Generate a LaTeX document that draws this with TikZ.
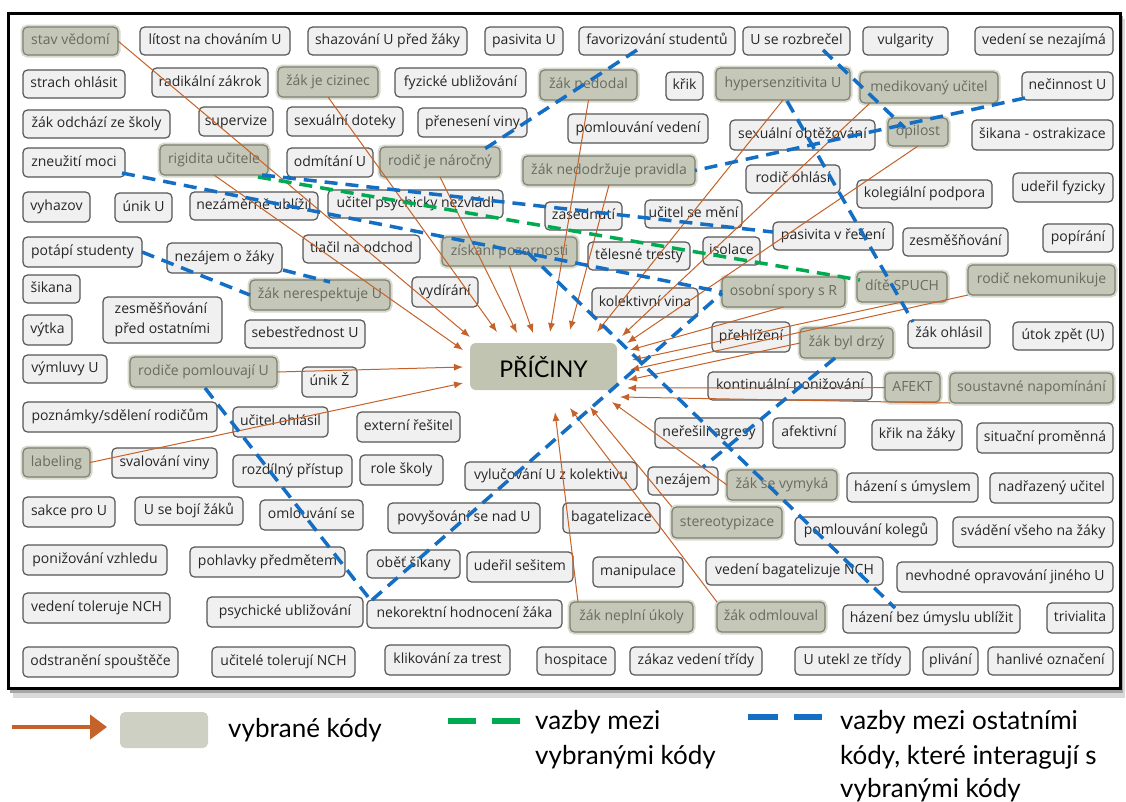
\documentclass[tikz,border=0pt]{standalone}
\usepackage{fontspec}
\setmainfont{Open Sans}
\newfontfamily\latofont{Lato}
\usetikzlibrary{arrows.meta}
\definecolor{oarrow}{RGB}{197,98,42}
\definecolor{bdash}{RGB}{20,110,195}
\definecolor{gdash}{RGB}{0,170,80}
\definecolor{selfill}{RGB}{197,200,184}
\definecolor{seldraw}{RGB}{125,127,112}
\definecolor{seltext}{RGB}{105,106,96}
\definecolor{selglow}{RGB}{216,218,205}
\definecolor{boxfill}{RGB}{240,240,240}
\definecolor{boxdraw}{RGB}{85,85,85}
\definecolor{pfill}{RGB}{192,196,176}
\definecolor{legfill}{RGB}{205,208,194}
\tikzset{
 box/.style={rounded corners=4.5pt, inner xsep=2pt, inner ysep=1pt, outer sep=0pt,
   font=\fontsize{14}{17}\selectfont, align=center, text height=10pt, text depth=3pt},
 cbox/.style={box, draw=boxdraw, line width=1.2pt, fill=boxfill, text=black!85},
 sbox/.style={box, draw=seldraw, line width=1.2pt, fill=selfill, text=seltext,
   preaction={draw=selglow, line width=5pt}},
 oarr/.style={draw=oarrow, line width=1pt, -{Latex[length=9pt,width=7pt]}},
 bline/.style={draw=bdash, line width=3.5pt, dash pattern=on 13pt off 8pt},
 gline/.style={draw=gdash, line width=3.5pt, dash pattern=on 13pt off 8pt},
 legtext/.style={font=\latofont\fontsize{26}{34}\selectfont, inner sep=0pt, anchor=base west},
}
\newcommand\cbx[6]{\node[cbox,minimum width={#4-#2},minimum height={#5-#3}] (#1) at ({(#2+#4)/2},{(#3+#5)/2}) {#6};}
\newcommand\sbx[6]{\node[sbox,minimum width={#4-#2},minimum height={#5-#3}] (#1) at ({(#2+#4)/2},{(#3+#5)/2}) {#6};}
\begin{document}
\begin{tikzpicture}[x=1pt,y=-1pt]
\useasboundingbox (0,0) rectangle (1126,801);
% frame with shadow
\fill[black!15] (13,19) rectangle (1125,698);
\fill[black!35] (10,16) rectangle (1123,693);
\draw[line width=3pt, fill=white] (8,13) rectangle (1120,688);
% row 1
\sbx{stav}{23}{27}{118}{55}{stav vědomí}
\cbx{litost}{140}{27}{290}{55}{lítost na chováním U}
\cbx{shaz}{308}{27}{467}{55}{shazování U před žáky}
\cbx{pasU}{485}{27}{563}{55}{pasivita U}
\cbx{favor}{579}{27}{735}{55}{favorizování studentů}
\cbx{rozbr}{743}{27}{850}{55}{U se rozbrečel}
\cbx{vulg}{863}{27}{948}{55}{vulgarity}
\cbx{nezaj}{975}{27}{1113}{55}{vedení se nezajímá}
% row 2
\cbx{strach}{23}{70}{125}{98}{strach ohlásit}
\cbx{radik}{152}{68}{268}{97}{radikální zákrok}
\sbx{cizin}{278}{67}{378}{97}{žák je cizinec}
\cbx{fyz}{395}{68}{526}{97}{fyzické ubližování}
\sbx{nedodal}{540}{70}{637}{100}{žák nedodal}
\cbx{krik}{666}{72}{703}{100}{křik}
\sbx{hyper}{716}{68}{850}{100}{hypersenzitivita U}
\sbx{medik}{860}{72}{998}{103}{medikovaný učitel}
\cbx{necin}{1022}{72}{1113}{100}{nečinnost U}
% row 3
\cbx{odchazi}{23}{110}{170}{138}{žák odchází ze školy}
\cbx{superv}{199}{107}{273}{136}{supervize}
\cbx{doteky}{287}{107}{403}{136}{sexuální doteky}
\cbx{prenes}{418}{108}{527}{137}{přenesení viny}
\cbx{pomlved}{568}{114}{708}{143}{pomlouvání vedení}
\cbx{obtez}{730}{120}{875}{150}{sexuální obtěžování}
\sbx{opil}{888}{118}{948}{146}{opilost}
\cbx{ostrak}{972}{120}{1113}{150}{šikana - ostrakizace}
% row 4
\cbx{zneuz}{23}{148}{125}{177}{zneužití moci}
\sbx{rigid}{160}{145}{268}{175}{rigidita učitele}
\cbx{odmit}{287}{148}{373}{177}{odmítání U}
\sbx{naroc}{380}{147}{500}{177}{rodič je náročný}
\sbx{pravid}{523}{156}{695}{185}{žák nedodržuje pravidla}
\cbx{rodohl}{746}{165}{840}{193}{rodič ohlásí}
\cbx{koleg}{857}{180}{992}{208}{kolegiální podpora}
\cbx{uderF}{1013}{173}{1113}{202}{udeřil fyzicky}
% row 5
\cbx{vyhaz}{23}{192}{90}{222}{vyhazov}
\cbx{unikU}{115}{193}{172}{222}{únik U}
\cbx{nezam}{190}{192}{318}{220}{nezáměrně ublížil}
\cbx{psnez}{328}{190}{503}{218}{učitel psychicky nezvládl}
\cbx{zased}{545}{202}{622}{230}{zasednutí}
\cbx{semeni}{645}{200}{742}{228}{učitel se mění}
\cbx{pasres}{773}{222}{893}{250}{pasivita v řešení}
\cbx{zesm}{903}{228}{1008}{256}{zesměšňování}
\cbx{popir}{1043}{224}{1113}{252}{popírání}
% row 6
\cbx{potapi}{23}{237}{142}{267}{potápí studenty}
\cbx{nezZ}{167}{243}{282}{273}{nezájem o žáky}
\cbx{tlacil}{303}{235}{420}{263}{tlačil na odchod}
\sbx{pozor}{442}{237}{577}{266}{získání pozornosti}
\cbx{teles}{588}{242}{690}{270}{tělesné tresty}
\cbx{isol}{703}{237}{760}{265}{isolace}
% row 7
\cbx{sikana}{23}{275}{80}{303}{šikana}
\node[cbox, align=left, text height=, text depth=, font=\fontsize{14}{20}\selectfont,
  minimum width=119, minimum height=46] (zesmost) at (162.5,320) {zesměšňování\\před ostatními};
\sbx{neresp}{250}{280}{390}{310}{žák nerespektuje U}
\cbx{vydir}{412}{277}{478}{307}{vydírání}
\cbx{kolvin}{592}{288}{698}{317}{kolektivní vina}
\sbx{spory}{722}{277}{845}{307}{osobní spory s R}
\sbx{spuch}{857}{272}{947}{302}{dítě SPUCH}
\sbx{nekom}{968}{265}{1115}{295}{rodič nekomunikuje}
% row 8
\cbx{vytka}{23}{315}{72}{345}{výtka}
\cbx{sebes}{245}{320}{365}{348}{sebestřednost U}
\cbx{prehl}{712}{322}{790}{352}{přehlížení}
\sbx{drzy}{800}{328}{893}{358}{žák byl drzý}
\cbx{zakohl}{908}{320}{990}{348}{žák ohlásil}
\cbx{utok}{1013}{322}{1113}{350}{útok zpět (U)}
% row 9
\cbx{vymluvy}{23}{355}{107}{383}{výmluvy U}
\sbx{pomlrod}{130}{357}{277}{387}{rodiče pomlouvají U}
\cbx{unikZ}{302}{367}{357}{397}{únik Ž}
\node[fill=pfill, rounded corners=6pt, minimum width=147, minimum height=47, inner sep=0pt,
  font=\latofont\fontsize{23}{26}\selectfont] (P) at (543.5,366.5) {PŘÍČINY};
\cbx{kontin}{708}{372}{872}{400}{kontinuální ponižování}
\sbx{afekt}{885}{373}{940}{402}{AFEKT}
\sbx{soust}{950}{373}{1113}{403}{soustavné napomínání}
% row 10
\cbx{pozn}{23}{402}{217}{432}{poznámky/sdělení rodičům}
\cbx{ucohl}{233}{407}{328}{437}{učitel ohlásil}
\cbx{extern}{357}{412}{460}{442}{externí řešitel}
\cbx{neres}{655}{418}{763}{448}{neřešili agresy}
\cbx{afektiv}{773}{418}{845}{448}{afektivní}
\cbx{krikz}{872}{420}{962}{450}{křik na žáky}
\cbx{situac}{977}{423}{1113}{453}{situační proměnná}
% row 11
\sbx{label}{23}{448}{90}{477}{labeling}
\cbx{sval}{112}{448}{217}{478}{svalování viny}
\cbx{rozdil}{233}{455}{352}{487}{rozdílný přístup}
\cbx{role}{360}{455}{443}{485}{role školy}
\cbx{vyluc}{465}{462}{637}{490}{vylučování U z kolektivu}
\cbx{nezajem}{648}{467}{718}{495}{nezájem}
\sbx{vymyka}{727}{470}{837}{500}{žák se vymyká}
\cbx{hazU}{847}{473}{978}{502}{házení s úmyslem}
\cbx{nadraz}{990}{473}{1113}{503}{nadřazený učitel}
% row 12
\cbx{sakce}{23}{497}{115}{527}{sakce pro U}
\cbx{boji}{135}{497}{243}{525}{U se bojí žáků}
\cbx{omlouv}{260}{500}{363}{530}{omlouvání se}
\cbx{povys}{388}{503}{540}{533}{povyšování se nad U}
\cbx{bagat}{563}{503}{660}{533}{bagatelizace}
\sbx{stereo}{672}{507}{782}{538}{stereotypizace}
\cbx{pomlkol}{795}{517}{937}{545}{pomlouvání kolegů}
\cbx{svad}{953}{517}{1113}{547}{svádění všeho na žáky}
% row 13
\cbx{ponvz}{23}{545}{167}{575}{ponižování vzhledu}
\cbx{pohlav}{190}{547}{345}{577}{pohlavky předmětem}
\cbx{obet}{367}{550}{460}{578}{oběť šikany}
\cbx{uderS}{467}{552}{573}{582}{udeřil sešitem}
\cbx{manip}{593}{557}{683}{587}{manipulace}
\cbx{vedbag}{706}{557}{883}{585}{vedení bagatelizuje NCH}
\cbx{nevhod}{897}{562}{1113}{592}{nevhodné opravování jiného U}
% row 14
\cbx{vedtol}{23}{593}{170}{623}{vedení toleruje NCH}
\cbx{psubl}{207}{597}{363}{627}{psychické ubližování}
\cbx{nekor}{367}{600}{562}{628}{nekorektní hodnocení žáka}
\sbx{neplni}{570}{602}{693}{632}{žák neplní úkoly}
\sbx{odmlouv}{717}{602}{825}{632}{žák odmlouval}
\cbx{hazbez}{843}{605}{1020}{633}{házení bez úmyslu ublížit}
\cbx{trivial}{1047}{603}{1113}{633}{trivialita}
% row 15
\cbx{odstr}{23}{647}{178}{677}{odstranění spouštěče}
\cbx{uctol}{212}{647}{355}{677}{učitelé tolerují NCH}
\cbx{klik}{385}{645}{510}{675}{klikování za trest}
\cbx{hospit}{537}{647}{615}{675}{hospitace}
\cbx{zakaz}{630}{647}{762}{675}{zákaz vedení třídy}
\cbx{utekl}{795}{647}{910}{675}{U utekl ze třídy}
\cbx{pliv}{923}{647}{978}{675}{plivání}
\cbx{hanl}{988}{647}{1113}{675}{hanlivé označení}
% arrow tips around PŘÍČINY
\coordinate (t1) at (470,337);
\coordinate (t2) at (497,332);
\coordinate (t3) at (463,350);
\coordinate (t4) at (517,333);
\coordinate (t5) at (550,332);
\coordinate (t6) at (570,330);
\coordinate (t7) at (533,333);
\coordinate (t8) at (597,332);
\coordinate (t9) at (622,336);
\coordinate (t10) at (627,343);
\coordinate (t11) at (630,350);
\coordinate (t12) at (632,360);
\coordinate (t13) at (630,370);
\coordinate (t14) at (628,380);
\coordinate (t15) at (627,388);
\coordinate (t16) at (620,397);
\coordinate (t17) at (612,402);
\coordinate (t18) at (590,407);
\coordinate (t19) at (570,408);
\coordinate (t20) at (555,412);
\coordinate (t21) at (463,367);
\coordinate (t22) at (463,383);
% orange connectors
\draw[oarr] (stav.east) -- (t1);
\draw[oarr] (cizin.south) -- (t2);
\draw[oarr] (rigid.south) -- (t3);
\draw[oarr] (naroc.south) -- (t4);
\draw[oarr] (nedodal.south) -- (t5);
\draw[oarr] (pravid.south) -- (t6);
\draw[oarr] (pozor.south) -- (t7);
\draw[oarr] (hyper.south) -- (t8);
\draw[oarr] ([xshift=10pt]medik.south west) -- (t9);
\draw[oarr] (opil.south) -- (t10);
\draw[oarr] (spory.south) -- (t11);
\draw[oarr] (spuch.south) -- (t12);
\draw[oarr] (nekom.south west) -- (t13);
\draw[oarr] (drzy.west) -- (t14);
\draw[oarr] (afekt.west) -- (t15);
\draw[oarr] (soust.south west) -- (t16);
\draw[oarr] (vymyka.west) -- (t17);
\draw[oarr] (stereo.north west) -- (t18);
\draw[oarr] (odmlouv.north west) -- (t19);
\draw[oarr] ([xshift=8pt]neplni.north west) -- (t20);
\draw[oarr] (pomlrod.east) -- (t21);
\draw[oarr] (label.east) -- (t22);
% green connector
\draw[gline] ([shift={(44,17)}]rigid.center) -- ([shift={(-42,-7)}]spuch.center);
% blue connectors
\draw[bline] ([shift={(-20,9)}]favor.center) -- ([shift={(43,-12)}]naroc.center);
\draw[bline] ([shift={(26.5,9)}]rozbr.center) -- ([shift={(-13,-4)}]opil.center);
\draw[bline] ([shift={(-42.5,12)}]necin.center) -- ([shift={(86,0)}]pravid.center);
\draw[bline] ([shift={(4,17)}]hyper.center) -- ([shift={(-36,-12)}]zakohl.center);
\draw[bline] ([shift={(48,10.5)}]zneuz.center) -- (spory.west);
\draw[bline] ([shift={(48,15)}]rigid.center) -- ([shift={(-60,-4)}]pasres.center);
\draw[bline] (potapi.east) -- (neresp.west);
\draw[bline] ([shift={(58.5,12)}]nezZ.center) -- ([shift={(10,-13)}]neresp.center);
\draw[bline] ([shift={(1.5,16)}]pomlrod.center) -- ([shift={(-92.5,-12)}]nekor.center);
\draw[bline] ([shift={(-92.5,-14)}]nekor.center) -- ([shift={(-61.5,1)}]spory.center);
\draw[bline] ([shift={(-11.5,15)}]drzy.center) -- ([shift={(20,-14)}]nezajem.center);
\draw[bline] ([shift={(17.5,0.5)}]pozor.center) -- ([shift={(-36.5,-11)}]hazbez.center);
% legend
\coordinate (la) at (12,727);
\coordinate (lb) at (107,727);
\draw[draw=oarrow, line width=4.5pt, -{Triangle[length=17pt,width=24pt]}] (la) -- (lb);
\node[fill=legfill, rounded corners=5pt, minimum width=88, minimum height=36, inner sep=0pt] (legbox) at (164,730) {};
\node[legtext] (l1) at (228,737) {vybrané kódy};
\coordinate (lg1) at (448,721);
\coordinate (lg2) at (520,721);
\draw[draw=gdash, line width=6.5pt, dash pattern=on 28pt off 16pt] (lg1) -- (lg2);
\node[legtext] (l2) at (535,729) {vazby mezi};
\node[legtext] (l3) at (535,764) {vybranými kódy};
\coordinate (lb1) at (748,717);
\coordinate (lb2) at (822,717);
\draw[draw=bdash, line width=6.5pt, dash pattern=on 30pt off 16pt] (lb1) -- (lb2);
\node[legtext] (l4) at (840,729) {vazby mezi ostatními};
\node[legtext] (l5) at (840,764) {kódy, které interagují s};
\node[legtext] (l6) at (840,797) {vybranými kódy};
\end{tikzpicture}
\end{document}
